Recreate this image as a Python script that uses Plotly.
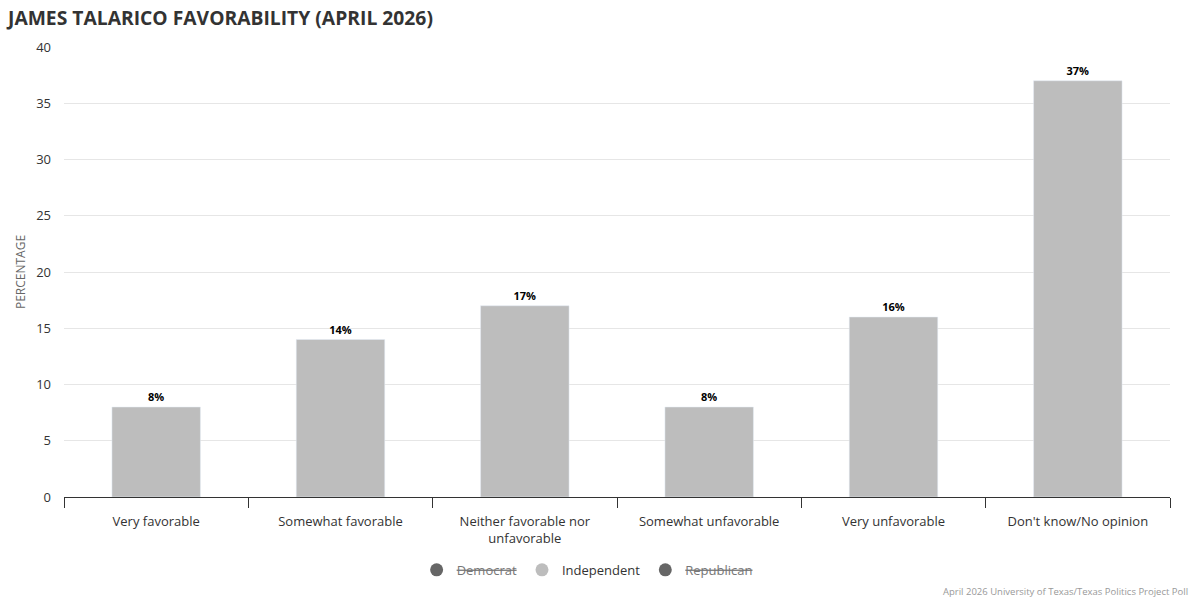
import plotly.graph_objects as go

categories = ["Very favorable", "Somewhat favorable", "Neither favorable nor<br>unfavorable",
              "Somewhat unfavorable", "Very unfavorable", "Don't know/No opinion"]
independent = [8, 14, 17, 8, 16, 37]
legend_names = ["Democrat", "Independent", "Republican"]
legend_colors = ["#666666", "#bdbdbd", "#666666"]
legend_hidden = [True, False, True]

FONT = "Open Sans, Noto Sans, sans-serif"

fig = go.Figure()
fig.add_trace(go.Bar(
    x=categories, y=independent, name="Independent",
    marker_color="#bdbdbd", showlegend=False,
    text=[f"<b>{v}%</b>" for v in independent], textposition="outside",
    textfont=dict(size=11, color="#000000", family=FONT),
    cliponaxis=False,
))

# legend entries (circles), hidden parties struck through
for name, color, hidden in zip(legend_names, legend_colors, legend_hidden):
    label = name
    if hidden:
        label = f'<span style="text-decoration:line-through;fill:#777777">{name}</span>'
    fig.add_trace(go.Scatter(
        x=[None], y=[None], mode="markers", name=label,
        marker=dict(symbol="circle", size=13, color=color),
        showlegend=True,
    ))

fig.update_layout(
    width=1200, height=600,
    paper_bgcolor="white", plot_bgcolor="white",
    font=dict(family=FONT, size=13, color="#333333"),
    margin=dict(l=64, r=30, t=47, b=103, autoexpand=False),
    bargap=0.52,
    title=dict(text="<b>JAMES TALARICO FAVORABILITY (APRIL 2026)</b>",
               x=8 / 1200, xanchor="left", y=1 - 18 / 600, yanchor="middle",
               pad=dict(l=0, t=0, b=0, r=0),
               font=dict(size=19.3, color="#333333", family=FONT)),
    legend=dict(orientation="h", x=0.473, xanchor="center", y=-0.162, yanchor="middle",
                font=dict(size=13, color="#333333"), itemclick=False),
    showlegend=True,
)
fig.update_xaxes(
    showline=True, linecolor="#333333", linewidth=1,
    ticks="outside", tickson="boundaries", ticklen=10, tickcolor="#333333",
    ticklabelstandoff=12,
    tickfont=dict(size=13, color="#333333"), showgrid=False,
)
fig.update_yaxes(
    range=[0, 40], dtick=5, showgrid=True, gridcolor="#e6e6e6",
    zeroline=False, tickfont=dict(size=13, color="#333333"),
    ticklabelstandoff=12,
    title=dict(text="PERCENTAGE", font=dict(size=12, color="#666666"), standoff=7),
)
fig.add_annotation(
    text="April 2026 University of Texas/Texas Politics Project Poll",
    xref="paper", yref="paper", x=1.018, y=-0.209, xanchor="right", yanchor="middle",
    showarrow=False, font=dict(size=9.5, color="#999999"),
)

fig.write_html("out.html", config={"displayModeBar": False},
               post_script="document.body.style.margin='0';")
